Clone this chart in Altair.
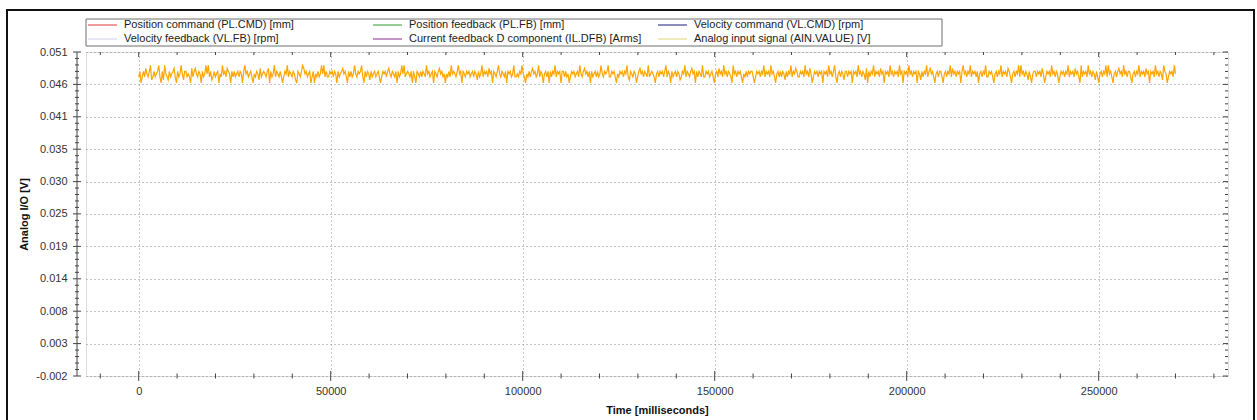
import altair as alt
import pandas as pd

# ---------------- data ----------------
# Analog input signal: quantised ADC levels [V]
ain_levels = [0.0461, 0.0466, 0.0471, 0.0476, 0.0480, 0.0485, 0.0490]
# sample-by-sample level index (0..6) of the analog input trace
ain_rows = [
    "2402425324612423462041632142345204236314",
    "4232052453243042363624124234032634254304",
    "2423424304634234203243152343245042362432",
    "4202436243243104324653423402403242363624",
    "2243424304234534204242363243462042431423",
    "4234202434245324324042363623432404204324",
    "2432634234043245342303242634324634043243",
    "4234243142362434253404324632432404342362",
    "2324363203242453423624303424042436243404",
    "4242302434234263245342404234242363243462",
    "2434203243424362143243024534243262343203",
    "4243424624304234243124362432453404243262",
    "2434234203425342634243206342434203242434",
    "4202434243624342634203424243142436243542",
    "2434263425302434243404342634246203424314",
    "4243404342634243150424362434253404342634",
    "2434263404342634243404314243624534203424",
    "4203424362534243404634243624342403424362",
    "2434203424362434254203424362634243142034",
    "4243425302434263424302434243624342534206",
    "2434263424314203424362634203424534263424",
    "4203424362434253404342634243164302434263",
]
t_start, t_end = 0, 270000  # ms

x_major = [0, 50000, 100000, 150000, 200000, 250000]
x_minor = [-10000, 10000, 20000, 30000, 40000, 60000, 70000, 80000, 90000,
           110000, 120000, 130000, 140000, 160000, 170000, 180000, 190000,
           210000, 220000, 230000, 240000, 260000, 270000, 280000]
y_major = [-0.0022, 0.00314, 0.00848, 0.01382, 0.01916, 0.02452, 0.02984,
           0.03518, 0.04052, 0.04586, 0.0512]
x_domain = [-13724, 283672]
y_domain = [-0.0022, 0.0512]

legend_names = [
    "Position command (PL.CMD) [mm]",
    "Position feedback (PL.FB) [mm]",
    "Velocity command (VL.CMD) [rpm]",
    "Velocity feedback (VL.FB) [rpm]",
    "Current feedback D component (IL.DFB) [Arms]",
    "Analog input signal (AIN.VALUE) [V]",
]
legend_colors = ["#e03a3a", "#2f9a2f", "#1c1c7c", "#cfcfea", "#8a2a8a", "#ddd276"]

# ---------------- build tables ----------------
codes = [int(c) for row in ain_rows for c in row]
n = len(codes)
df = pd.DataFrame({
    "t": [t_start + i * (t_end - t_start) / (n - 1) for i in range(n)],
    "v": [ain_levels[c] for c in codes],
})
one = pd.DataFrame({"k": [0]})

y_minor = []
for a, b in zip(y_major[:-1], y_major[1:]):
    for k in range(1, 5):
        y_minor.append(a + (b - a) * k / 5)

W, H = 1142, 324
FONT = "Liberation Sans"

xs = alt.Scale(domain=x_domain, nice=False, zero=False)
ys = alt.Scale(domain=y_domain, nice=False, zero=False)

ax_x = alt.Axis(
    values=x_major, format="d", grid=True, gridDash=[1, 3], gridColor="#8a8a8a",
    ticks=False, domain=False, labelPadding=9, labelFont=FONT, labelFontSize=11,
    labelColor="#333333", title="Time [milliseconds]", titleFont=FONT,
    titleFontSize=11, titleFontWeight="bold", titleColor="#111111",
    titleY=34, titleBaseline="middle")
ax_y = alt.Axis(
    values=y_major, labelExpr="replace(format(datum.value, '.3f'), '\u2212', '-')",
    grid=True, gridDash=[1, 3], gridColor="#8a8a8a",
    ticks=False, domain=False, labelPadding=19, labelFont=FONT, labelFontSize=11,
    labelColor="#333333", title="Analog I/O [V]", titleFont=FONT,
    titleFontSize=11, titleFontWeight="bold", titleColor="#111111",
    titleX=-62, titleY=H / 2, titleAngle=270, titleAlign="center",
    titleBaseline="middle")

line = alt.Chart(df).mark_line(color="#FFA500", strokeWidth=1.2).encode(
    x=alt.X("t:Q", scale=xs, axis=ax_x),
    y=alt.Y("v:Q", scale=ys, axis=ax_y),
)

layers = []

# outer frame
layers.append(alt.Chart(one).mark_rect(fill="transparent", stroke="#111111", strokeWidth=2).encode(
    x=alt.value(-79), x2=alt.value(1168), y=alt.value(-42), y2=alt.value(380)))

xmaj_df = pd.DataFrame({"t": x_major})
xmin_df = pd.DataFrame({"t": x_minor})
ymaj_df = pd.DataFrame({"v": y_major})
ymin_df = pd.DataFrame({"v": y_minor})

tick_col = "#444444"
# bottom axis ticks (crossing)
layers.append(alt.Chart(xmaj_df).mark_rule(color=tick_col).encode(
    x=alt.X("t:Q", scale=xs, axis=ax_x), y=alt.value(H - 5), y2=alt.value(H + 5)))
layers.append(alt.Chart(xmin_df).mark_rule(color=tick_col).encode(
    x=alt.X("t:Q", scale=xs, axis=ax_x), y=alt.value(H - 2.5), y2=alt.value(H + 2.5)))
# top ticks (inward)
layers.append(alt.Chart(xmaj_df).mark_rule(color=tick_col).encode(
    x=alt.X("t:Q", scale=xs, axis=ax_x), y=alt.value(0), y2=alt.value(5)))
layers.append(alt.Chart(xmin_df).mark_rule(color=tick_col).encode(
    x=alt.X("t:Q", scale=xs, axis=ax_x), y=alt.value(0), y2=alt.value(3)))
# left axis line + crossing ticks
layers.append(alt.Chart(one).mark_rule(color="#444444").encode(
    x=alt.value(-9), y=alt.value(0), y2=alt.value(H)))
layers.append(alt.Chart(ymaj_df).mark_rule(color=tick_col).encode(
    y=alt.Y("v:Q", scale=ys, axis=ax_y), x=alt.value(-13), x2=alt.value(-5)))
layers.append(alt.Chart(ymin_df).mark_rule(color=tick_col).encode(
    y=alt.Y("v:Q", scale=ys, axis=ax_y), x=alt.value(-11), x2=alt.value(-7)))
# right ticks (inward)
layers.append(alt.Chart(ymaj_df).mark_rule(color=tick_col).encode(
    y=alt.Y("v:Q", scale=ys, axis=ax_y), x=alt.value(W - 5), x2=alt.value(W)))
layers.append(alt.Chart(ymin_df).mark_rule(color=tick_col).encode(
    y=alt.Y("v:Q", scale=ys, axis=ax_y), x=alt.value(W - 3), x2=alt.value(W)))

# legend box
layers.append(alt.Chart(one).mark_rect(fill="white", stroke="#6e6e6e", strokeWidth=1).encode(
    x=alt.value(0), x2=alt.value(856), y=alt.value(-33), y2=alt.value(-6)))
for i, (name, col) in enumerate(zip(legend_names, legend_colors)):
    c, r = i % 3, i // 3
    x0 = 2 + c * 285
    yy = -27 + r * 14
    layers.append(alt.Chart(one).mark_rule(color=col, strokeWidth=1).encode(
        x=alt.value(x0), x2=alt.value(x0 + 29), y=alt.value(yy)))
    layers.append(alt.Chart(one).mark_text(
        text=name, align="left", baseline="middle", font=FONT, fontSize=11,
        color="#222222").encode(x=alt.value(x0 + 36), y=alt.value(yy)))

chart = alt.layer(line, *layers).properties(
    width=W, height=H,
    padding={"left": 86, "top": 52, "right": 29, "bottom": 44},
    autosize=alt.AutoSizeParams(type="none"),
).configure_view(stroke="#8c8c8c", strokeWidth=1).configure(background="white")

chart.save("out.html", embed_options={"renderer": "svg", "actions": False})
